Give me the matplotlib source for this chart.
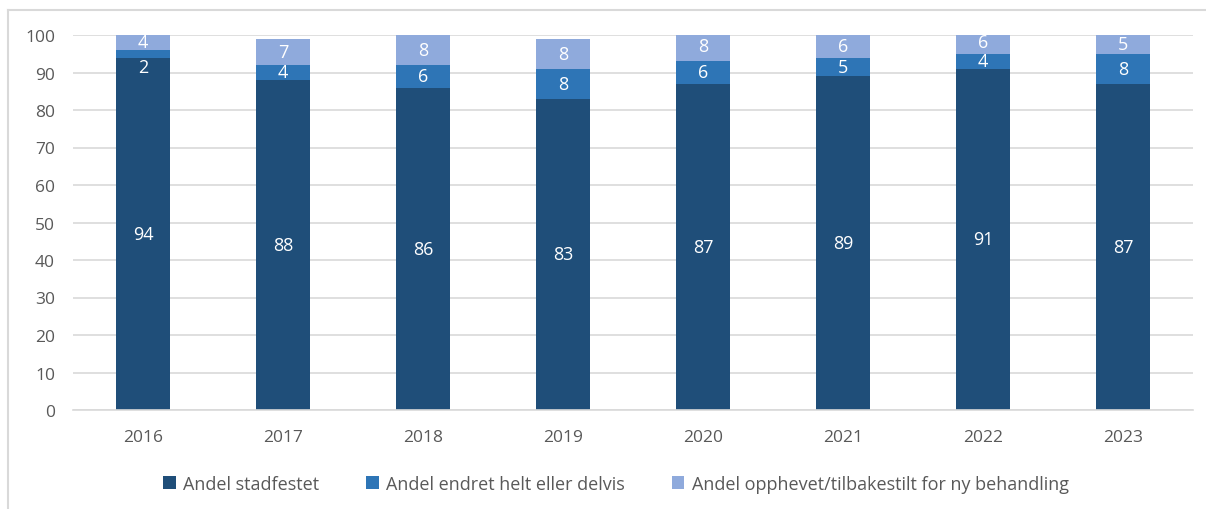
import matplotlib
matplotlib.use("Agg")
import matplotlib.pyplot as plt
from matplotlib.lines import Line2D
import numpy as np

years = ["2016", "2017", "2018", "2019", "2020", "2021", "2022", "2023"]
stadfestet = [94, 88, 86, 83, 87, 89, 91, 87]
endret = [2, 4, 6, 8, 6, 5, 4, 8]
opphevet = [4, 7, 8, 8, 8, 6, 6, 5]

series_names = [
    "Andel stadfestet",
    "Andel endret helt eller delvis",
    "Andel opphevet/tilbakestilt for ny behandling",
]
colors = ["#1F4E79", "#2E75B6", "#8FAADC"]

plt.rcParams["font.family"] = ["Open Sans", "DejaVu Sans"]

fig = plt.figure(figsize=(12.06, 5.10), dpi=100)
ax = fig.add_axes([73 / 1206, 99 / 510, 1120 / 1206, 375 / 510])

x = np.arange(len(years))
width = 0.39
bottom = np.zeros(len(years))
for vals, name, col in zip([stadfestet, endret, opphevet], series_names, colors):
    vals = np.array(vals, dtype=float)
    ax.bar(x, vals, width, bottom=bottom, color=col, label=name, zorder=2)
    centers = bottom + vals / 2
    for i, (c, v) in enumerate(zip(centers, vals)):
        # very thin segments get their label pushed down below the neighbouring one
        yy = c - 3.5 if v < 3 else c
        ax.text(x[i], yy, f"{int(v)}", ha="center", va="center",
                color="white", fontsize=13, zorder=3)
    bottom += vals

ax.set_xlim(-0.5, len(years) - 0.5)
ax.set_ylim(0, 100)
ax.set_yticks(np.arange(0, 101, 10))
ax.set_xticks(x)
ax.set_xticklabels(years)
ax.grid(axis="y", color="#D9D9D9", linewidth=1.2, zorder=0)
ax.set_axisbelow(True)
for s in ["top", "right", "left"]:
    ax.spines[s].set_visible(False)
ax.spines["bottom"].set_color("#D9D9D9")
ax.spines["bottom"].set_linewidth(1.2)
ax.tick_params(axis="both", length=0, labelsize=12.5, labelcolor="#595959")
ax.tick_params(axis="y", pad=13)
ax.tick_params(axis="x", pad=14)

handles, labels = ax.get_legend_handles_labels()
leg = fig.legend(handles, labels, loc="center", bbox_to_anchor=(616 / 1206, 25 / 510),
                 ncol=3, frameon=False, fontsize=13, handlelength=0.7,
                 handleheight=0.7, handletextpad=0.4, columnspacing=2.6)
for t in leg.get_texts():
    t.set_color("#595959")

# chart area border (left and top edges)
fig.add_artist(Line2D([7.5 / 1206, 7.5 / 1206], [0, 1 - 11 / 510], color="#D9D9D9", lw=1.5))
fig.add_artist(Line2D([7.5 / 1206, 1], [1 - 11 / 510, 1 - 11 / 510], color="#D9D9D9", lw=1.5))

fig.savefig("out.png", dpi=100, facecolor="white")
